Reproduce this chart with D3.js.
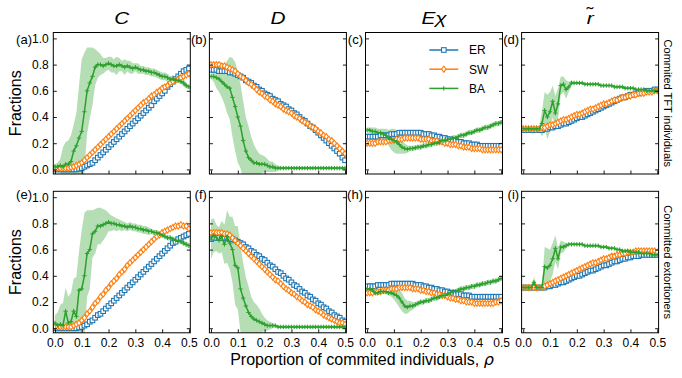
<!DOCTYPE html>
<html>
<head>
<meta charset="utf-8">
<script src="https://cdn.jsdelivr.net/npm/d3@7"></script>
<style>
  body { margin: 0; background: #fff; }
  text { font-family: "Liberation Sans", Arial, sans-serif; }
</style>
</head>
<body>
<div id="chart-area"></div>
<script>
// proportion of committed individuals (x values)
const rho = [0.00,0.01,0.02,0.03,0.04,0.05,0.06,0.07,0.08,0.09,
  0.10,0.11,0.12,0.13,0.14,0.15,0.16,0.17,0.18,0.19,
  0.20,0.21,0.22,0.23,0.24,0.25,0.26,0.27,0.28,0.29,
  0.30,0.31,0.32,0.33,0.34,0.35,0.36,0.37,0.38,0.39,
  0.40,0.41,0.42,0.43,0.44,0.45,0.46,0.47,0.48,0.49,0.50];

const xTicks = [0, 0.1, 0.2, 0.3, 0.4, 0.5];
const yTicks = [0, 0.2, 0.4, 0.6, 0.8, 1.0];
const columnTitles = ["C", "D", "E\u03c7", "r"];
const rowTitles = ["Commited TFT individuals", "Committed extortioners"];
const panelLetters = ["(a)", "(b)", "(c)", "(d)", "(e)", "(f)", "(h)", "(i)"];
const networks = ["ER", "SW", "BA"];

// ---- row 1: committed TFT ----
const erC1 = [0,0,0,0,0,0,0,0,0,0.005,0.01,0.02,0.03,0.04,0.05,0.07,0.09,0.11,0.13,0.15,0.17,0.19,0.21,0.23,0.25,0.27,0.29,0.31,0.33,0.35,0.37,0.39,0.41,0.43,0.45,0.47,0.49,0.52,0.54,0.56,0.58,0.60,0.63,0.65,0.67,0.69,0.71,0.73,0.75,0.76,0.77];
const swC1 = [0.01,0.01,0.01,0.01,0.01,0.01,0.015,0.02,0.03,0.04,0.05,0.07,0.09,0.11,0.13,0.15,0.17,0.19,0.21,0.23,0.25,0.27,0.29,0.31,0.33,0.35,0.37,0.39,0.41,0.43,0.45,0.47,0.49,0.51,0.52,0.54,0.56,0.57,0.59,0.60,0.62,0.63,0.64,0.66,0.67,0.68,0.69,0.70,0.71,0.72,0.73];
const baC1 = [0.02,0.02,0.03,0.02,0.04,0.04,0.06,0.14,0.18,0.24,0.29,0.44,0.60,0.66,0.71,0.78,0.80,0.80,0.79,0.80,0.81,0.80,0.79,0.79,0.80,0.79,0.78,0.79,0.78,0.77,0.78,0.77,0.76,0.76,0.75,0.75,0.74,0.74,0.73,0.72,0.71,0.71,0.70,0.69,0.69,0.68,0.68,0.67,0.66,0.64,0.63];
const sdC1 = [0.02,0.03,0.05,0.15,0.17,0.18,0.20,0.20,0.25,0.40,0.55,0.45,0.33,0.27,0.22,0.14,0.10,0.08,0.06,0.05,0.05,0.06,0.05,0.07,0.05,0.04,0.06,0.04,0.05,0.04,0.03,0.04,0.03,0.03,0.03,0.03,0.03,0.03,0.03,0.03,0.03,0.03,0.03,0.02,0.03,0.02,0.02,0.02,0.03,0.02,0.02];

const erD1 = [0.76,0.76,0.76,0.75,0.75,0.75,0.75,0.74,0.74,0.73,0.72,0.71,0.70,0.68,0.67,0.66,0.64,0.63,0.61,0.60,0.58,0.57,0.56,0.54,0.53,0.52,0.50,0.49,0.48,0.46,0.45,0.43,0.42,0.40,0.38,0.37,0.35,0.33,0.32,0.30,0.28,0.26,0.24,0.22,0.20,0.18,0.16,0.14,0.12,0.09,0.07];
const swD1 = [0.80,0.80,0.80,0.80,0.79,0.79,0.78,0.77,0.76,0.75,0.73,0.71,0.70,0.68,0.66,0.65,0.63,0.61,0.59,0.58,0.56,0.55,0.53,0.52,0.50,0.49,0.48,0.46,0.45,0.44,0.43,0.41,0.40,0.39,0.37,0.36,0.35,0.33,0.32,0.31,0.29,0.28,0.26,0.25,0.23,0.22,0.20,0.18,0.16,0.14,0.12];
const baD1 = [0.71,0.71,0.70,0.69,0.67,0.65,0.63,0.62,0.55,0.48,0.40,0.33,0.22,0.14,0.09,0.07,0.05,0.05,0.04,0.04,0.04,0.03,0.02,0.02,0.01,0.01,0.01,0.01,0.01,0.01,0.01,0.01,0.01,0.01,0.01,0.01,0.01,0.01,0.01,0.01,0.01,0.01,0.01,0.01,0.01,0.01,0.01,0.01,0.01,0.01,0.01];
const sdD1 = [0.02,0.04,0.08,0.10,0.12,0.15,0.20,0.24,0.30,0.34,0.35,0.32,0.30,0.26,0.24,0.18,0.14,0.10,0.08,0.07,0.06,0.05,0.04,0.04,0.03,0.02,0.01,0.01,0.01,0.01,0.01,0.01,0.01,0.01,0.01,0.01,0.01,0.01,0.01,0.01,0.01,0.01,0.01,0.01,0.01,0.01,0.01,0.01,0.01,0.01,0.01];

const erE1 = [0.25,0.25,0.25,0.25,0.25,0.26,0.26,0.26,0.26,0.27,0.27,0.27,0.28,0.28,0.28,0.28,0.28,0.28,0.28,0.28,0.28,0.27,0.27,0.27,0.26,0.26,0.25,0.25,0.24,0.24,0.23,0.23,0.22,0.22,0.21,0.21,0.20,0.20,0.20,0.19,0.19,0.19,0.18,0.18,0.18,0.18,0.18,0.18,0.18,0.18,0.18];
const swE1 = [0.20,0.20,0.20,0.20,0.21,0.21,0.21,0.21,0.22,0.22,0.22,0.23,0.23,0.23,0.24,0.24,0.24,0.24,0.24,0.24,0.23,0.23,0.23,0.23,0.22,0.22,0.22,0.21,0.21,0.20,0.20,0.19,0.19,0.19,0.18,0.18,0.17,0.17,0.17,0.16,0.16,0.16,0.16,0.15,0.15,0.15,0.15,0.15,0.15,0.15,0.15];
const baE1 = [0.30,0.30,0.29,0.29,0.28,0.28,0.27,0.26,0.24,0.23,0.22,0.21,0.19,0.17,0.16,0.155,0.16,0.16,0.165,0.17,0.17,0.18,0.18,0.19,0.19,0.20,0.20,0.21,0.22,0.22,0.23,0.23,0.24,0.24,0.25,0.26,0.26,0.27,0.28,0.28,0.29,0.30,0.30,0.31,0.32,0.32,0.33,0.34,0.35,0.35,0.36];
const sdE1 = [0.02,0.02,0.03,0.03,0.03,0.03,0.04,0.05,0.06,0.08,0.09,0.09,0.07,0.05,0.04,0.03,0.02,0.02,0.02,0.02,0.02,0.02,0.02,0.02,0.02,0.02,0.02,0.02,0.02,0.02,0.02,0.02,0.02,0.02,0.02,0.02,0.02,0.02,0.02,0.02,0.02,0.02,0.02,0.02,0.02,0.02,0.02,0.02,0.02,0.02,0.02];

const erR1 = [0.30,0.30,0.30,0.30,0.30,0.30,0.30,0.30,0.31,0.31,0.32,0.32,0.33,0.33,0.34,0.35,0.35,0.36,0.37,0.38,0.39,0.40,0.40,0.41,0.42,0.43,0.44,0.45,0.46,0.47,0.48,0.49,0.50,0.51,0.52,0.53,0.54,0.55,0.55,0.56,0.57,0.57,0.58,0.58,0.59,0.59,0.60,0.60,0.60,0.61,0.61];
const swR1 = [0.31,0.31,0.31,0.31,0.31,0.31,0.31,0.32,0.32,0.33,0.34,0.34,0.35,0.36,0.37,0.38,0.38,0.39,0.40,0.41,0.42,0.42,0.43,0.44,0.45,0.46,0.46,0.47,0.48,0.49,0.50,0.50,0.51,0.52,0.53,0.53,0.54,0.55,0.55,0.56,0.56,0.57,0.57,0.58,0.58,0.58,0.59,0.59,0.59,0.60,0.60];
const baR1 = [0.31,0.31,0.31,0.31,0.31,0.31,0.31,0.35,0.45,0.40,0.44,0.52,0.43,0.50,0.64,0.65,0.61,0.63,0.66,0.66,0.66,0.66,0.66,0.65,0.65,0.65,0.65,0.65,0.65,0.64,0.64,0.64,0.64,0.64,0.63,0.63,0.63,0.63,0.62,0.62,0.62,0.62,0.61,0.61,0.61,0.61,0.60,0.60,0.60,0.60,0.60];
const sdR1 = [0.01,0.01,0.01,0.01,0.01,0.01,0.01,0.10,0.14,0.17,0.15,0.12,0.13,0.12,0.07,0.06,0.07,0.04,0.02,0.01,0.01,0.01,0.01,0.01,0.01,0.01,0.01,0.01,0.01,0.01,0.01,0.01,0.01,0.01,0.01,0.01,0.01,0.01,0.01,0.01,0.01,0.01,0.01,0.01,0.01,0.01,0.01,0.01,0.01,0.01,0.01];

// ---- row 2: committed extortioners ----
const erC2 = [0,0,0,0,0,0,0,0,0,0.005,0.01,0.02,0.03,0.05,0.06,0.08,0.10,0.11,0.13,0.15,0.17,0.19,0.21,0.23,0.25,0.27,0.29,0.31,0.33,0.35,0.37,0.39,0.41,0.43,0.45,0.47,0.49,0.51,0.53,0.55,0.57,0.59,0.61,0.63,0.65,0.66,0.68,0.69,0.70,0.71,0.72];
const swC2 = [0.01,0.01,0.01,0.01,0.01,0.01,0.01,0.02,0.03,0.04,0.06,0.08,0.11,0.13,0.16,0.19,0.21,0.24,0.26,0.29,0.31,0.34,0.36,0.38,0.41,0.43,0.45,0.48,0.50,0.52,0.54,0.56,0.58,0.60,0.62,0.64,0.66,0.68,0.70,0.71,0.73,0.74,0.75,0.76,0.77,0.78,0.78,0.79,0.78,0.78,0.76];
const baC2 = [0.04,0.02,0.03,0.02,0.13,0.04,0.05,0.13,0.09,0.29,0.30,0.40,0.57,0.60,0.72,0.74,0.78,0.78,0.79,0.80,0.81,0.80,0.80,0.79,0.79,0.78,0.78,0.77,0.78,0.77,0.77,0.76,0.76,0.75,0.75,0.74,0.74,0.73,0.73,0.72,0.71,0.70,0.69,0.69,0.68,0.67,0.67,0.66,0.65,0.64,0.63];
const sdC2 = [0.06,0.10,0.15,0.17,0.18,0.20,0.22,0.25,0.30,0.30,0.45,0.48,0.33,0.30,0.18,0.17,0.14,0.14,0.12,0.10,0.07,0.06,0.05,0.05,0.04,0.04,0.03,0.03,0.03,0.03,0.03,0.03,0.03,0.03,0.03,0.03,0.02,0.02,0.02,0.02,0.02,0.02,0.02,0.02,0.02,0.02,0.02,0.02,0.02,0.02,0.02];

const erD2 = [0.68,0.69,0.69,0.69,0.69,0.69,0.69,0.68,0.68,0.67,0.66,0.65,0.64,0.62,0.61,0.59,0.58,0.56,0.55,0.53,0.52,0.50,0.48,0.47,0.45,0.43,0.42,0.40,0.38,0.37,0.35,0.33,0.32,0.30,0.28,0.27,0.25,0.24,0.22,0.21,0.19,0.18,0.16,0.15,0.13,0.12,0.10,0.09,0.08,0.06,0.05];
const swD2 = [0.73,0.73,0.73,0.73,0.73,0.72,0.72,0.71,0.69,0.67,0.65,0.63,0.61,0.59,0.57,0.55,0.53,0.51,0.49,0.47,0.45,0.43,0.41,0.39,0.37,0.36,0.34,0.32,0.30,0.29,0.27,0.26,0.24,0.23,0.21,0.20,0.18,0.17,0.16,0.14,0.13,0.12,0.10,0.09,0.08,0.07,0.06,0.05,0.04,0.04,0.03];
const baD2 = [0.68,0.71,0.69,0.67,0.70,0.64,0.70,0.65,0.60,0.48,0.46,0.30,0.23,0.17,0.12,0.09,0.07,0.06,0.05,0.04,0.03,0.02,0.02,0.02,0.02,0.01,0.01,0.01,0.01,0.01,0.01,0.01,0.01,0.01,0.01,0.01,0.01,0.01,0.01,0.01,0.01,0.01,0.01,0.01,0.01,0.01,0.01,0.01,0.01,0.01,0.01];
const sdD2 = [0.15,0.13,0.10,0.10,0.12,0.15,0.20,0.20,0.25,0.30,0.32,0.33,0.27,0.22,0.20,0.15,0.13,0.12,0.10,0.07,0.05,0.04,0.03,0.02,0.01,0.01,0.01,0.01,0.01,0.01,0.01,0.01,0.01,0.01,0.01,0.01,0.01,0.01,0.01,0.01,0.01,0.01,0.01,0.01,0.01,0.01,0.01,0.01,0.01,0.01,0.01];

const erE2 = [0.32,0.32,0.32,0.32,0.33,0.33,0.33,0.33,0.33,0.34,0.34,0.34,0.34,0.34,0.34,0.34,0.34,0.34,0.33,0.33,0.33,0.32,0.32,0.31,0.31,0.30,0.30,0.29,0.29,0.28,0.28,0.27,0.27,0.26,0.26,0.26,0.25,0.25,0.25,0.24,0.24,0.24,0.24,0.24,0.24,0.24,0.24,0.24,0.24,0.24,0.24];
const swE2 = [0.27,0.27,0.27,0.28,0.28,0.28,0.29,0.29,0.29,0.30,0.30,0.30,0.31,0.31,0.31,0.31,0.31,0.30,0.30,0.30,0.29,0.29,0.28,0.28,0.27,0.27,0.26,0.26,0.25,0.25,0.24,0.23,0.23,0.22,0.22,0.21,0.21,0.20,0.20,0.20,0.19,0.19,0.19,0.19,0.19,0.19,0.19,0.19,0.20,0.20,0.21];
const baE2 = [0.30,0.30,0.29,0.27,0.27,0.28,0.28,0.28,0.27,0.27,0.26,0.25,0.23,0.20,0.17,0.16,0.17,0.17,0.18,0.19,0.20,0.20,0.21,0.21,0.22,0.23,0.23,0.24,0.25,0.25,0.26,0.27,0.28,0.28,0.29,0.30,0.30,0.31,0.31,0.32,0.32,0.33,0.33,0.34,0.34,0.35,0.35,0.36,0.36,0.37,0.38];
const sdE2 = [0.02,0.02,0.02,0.02,0.02,0.02,0.02,0.02,0.02,0.03,0.04,0.06,0.07,0.07,0.06,0.05,0.04,0.03,0.02,0.02,0.02,0.02,0.02,0.02,0.02,0.02,0.02,0.02,0.02,0.02,0.02,0.02,0.02,0.02,0.02,0.02,0.02,0.02,0.02,0.02,0.02,0.02,0.02,0.02,0.02,0.02,0.02,0.02,0.02,0.02,0.02];

const erR2 = [0.31,0.31,0.31,0.31,0.31,0.31,0.31,0.31,0.31,0.32,0.32,0.33,0.33,0.34,0.35,0.35,0.36,0.37,0.38,0.39,0.40,0.40,0.41,0.42,0.43,0.44,0.44,0.45,0.46,0.47,0.48,0.48,0.49,0.50,0.51,0.51,0.52,0.53,0.53,0.54,0.54,0.55,0.55,0.55,0.56,0.56,0.56,0.56,0.56,0.56,0.56];
const swR2 = [0.31,0.31,0.31,0.31,0.31,0.31,0.31,0.31,0.32,0.33,0.34,0.35,0.36,0.37,0.38,0.39,0.40,0.41,0.42,0.43,0.44,0.45,0.46,0.47,0.48,0.49,0.50,0.50,0.51,0.52,0.53,0.53,0.54,0.55,0.55,0.56,0.56,0.57,0.57,0.58,0.58,0.58,0.59,0.59,0.59,0.59,0.59,0.59,0.59,0.59,0.58];
const baR2 = [0.31,0.31,0.31,0.31,0.35,0.31,0.31,0.31,0.47,0.46,0.48,0.53,0.61,0.53,0.62,0.62,0.63,0.64,0.64,0.64,0.64,0.64,0.64,0.63,0.63,0.63,0.63,0.63,0.63,0.62,0.62,0.62,0.61,0.61,0.61,0.60,0.60,0.59,0.59,0.59,0.58,0.58,0.58,0.58,0.57,0.57,0.57,0.57,0.56,0.56,0.56];
const sdR2 = [0.01,0.01,0.01,0.01,0.04,0.02,0.01,0.02,0.15,0.15,0.12,0.12,0.10,0.08,0.05,0.04,0.02,0.01,0.01,0.01,0.01,0.01,0.01,0.01,0.01,0.01,0.01,0.01,0.01,0.01,0.01,0.01,0.01,0.01,0.01,0.01,0.01,0.01,0.01,0.01,0.01,0.01,0.01,0.01,0.01,0.01,0.01,0.01,0.01,0.01,0.01];

const panels = [
  {er: erC1, sw: swC1, ba: baC1, sd: sdC1},
  {er: erD1, sw: swD1, ba: baD1, sd: sdD1},
  {er: erE1, sw: swE1, ba: baE1, sd: sdE1},
  {er: erR1, sw: swR1, ba: baR1, sd: sdR1},
  {er: erC2, sw: swC2, ba: baC2, sd: sdC2},
  {er: erD2, sw: swD2, ba: baD2, sd: sdD2},
  {er: erE2, sw: swE2, ba: baE2, sd: sdE2},
  {er: erR2, sw: swR2, ba: baR2, sd: sdR2}
];

const colors = {ER: "#1f77b4", SW: "#ff7f0e", BA: "#2ca02c"};
const mathFont = "'DejaVu Sans', sans-serif";

let svg = d3.select("#chart-area")
  .append("svg")
  .attr("width", 682)
  .attr("height", 378);

const panelW = 137, panelH = 141.5;

// marker drawing
function drawMarkers(g, kind, pts) {
  let col = colors[kind];
  if (kind == "ER") {
    g.selectAll(null).data(pts).enter().append("rect")
      .attr("x", d => d[0] - 2.3).attr("y", d => d[1] - 2.3)
      .attr("width", 4.6).attr("height", 4.6)
      .attr("fill", "white").attr("stroke", col).attr("stroke-width", 1.1);
  } else if (kind == "SW") {
    g.selectAll(null).data(pts).enter().append("path")
      .attr("d", d => `M${d[0]},${d[1]-3}L${d[0]+2.2},${d[1]}L${d[0]},${d[1]+3}L${d[0]-2.2},${d[1]}Z`)
      .attr("fill", "white").attr("stroke", col).attr("stroke-width", 1.1);
  } else {
    g.selectAll(null).data(pts).enter().append("path")
      .attr("d", d => `M${d[0]-2.2},${d[1]}H${d[0]+2.2}M${d[0]},${d[1]-2.2}V${d[1]+2.2}`)
      .attr("stroke", col).attr("stroke-width", 1);
  }
}

panels.forEach(function(p, i) {
  let row = Math.floor(i / 4), col = i % 4;
  let x0 = 53.3 + col * 156.1;
  let y0 = 32.5 + row * 158.8;

  let x = d3.scaleLinear().domain([-0.006, 0.505]).range([x0, x0 + panelW]);
  let y = d3.scaleLinear().domain([-0.035, 1.045]).range([y0 + panelH, y0]);

  let clipId = "clip" + i;
  svg.append("clipPath").attr("id", clipId)
    .append("rect").attr("x", x0).attr("y", y0).attr("width", panelW).attr("height", panelH);

  let g = svg.append("g").attr("clip-path", `url(#${clipId})`);

  // BA spread band
  let area = d3.area()
    .x((d, k) => x(rho[k]))
    .y0((d, k) => y(p.ba[k] - p.sd[k]))
    .y1((d, k) => y(p.ba[k] + p.sd[k]));
  g.append("path").datum(p.ba)
    .attr("d", area)
    .attr("fill", colors.BA).attr("fill-opacity", 0.35);

  let line = d3.line().x((d, k) => x(rho[k])).y(d => y(d));

  [["ER", p.er], ["SW", p.sw], ["BA", p.ba]].forEach(function(s) {
    g.append("path").datum(s[1])
      .attr("d", line)
      .attr("fill", "none")
      .attr("stroke", colors[s[0]])
      .attr("stroke-width", 1.5);
    let pts = s[1].map((v, k) => [x(rho[k]), y(v)]);
    drawMarkers(g, s[0], pts);
  });

  // axes with inward ticks
  let left = svg.append("g").attr("transform", `translate(${x0},0)`)
    .call(d3.axisLeft(y).tickValues(yTicks).tickSize(-3.5).tickSizeOuter(0).tickPadding(4.5)
      .tickFormat(col == 0 ? d3.format(".1f") : ""));
  let right = svg.append("g").attr("transform", `translate(${x0 + panelW},0)`)
    .call(d3.axisRight(y).tickValues(yTicks).tickSize(-3.5).tickSizeOuter(0).tickFormat(""));
  let bottom = svg.append("g").attr("transform", `translate(0,${y0 + panelH})`)
    .call(d3.axisBottom(x).tickValues(xTicks).tickSize(-3.5).tickSizeOuter(0).tickPadding(5.5)
      .tickFormat(row == 1 ? d3.format(".1f") : ""));
  [left, right, bottom].forEach(function(a) {
    a.select(".domain").remove();
    a.selectAll("line").attr("stroke", "#000").attr("stroke-width", 0.9);
    a.selectAll("text").attr("font-size", 12).attr("fill", "#000")
      .attr("font-family", "'Liberation Sans', Arial, sans-serif");
  });

  // frame
  svg.append("rect")
    .attr("x", x0).attr("y", y0).attr("width", panelW).attr("height", panelH)
    .attr("fill", "none").attr("stroke", "#000").attr("stroke-width", 1);

  // panel letter
  svg.append("text")
    .attr("x", col == 0 ? 32 : x0 - 2.5)
    .attr("y", row == 0 ? 43.5 : 198.5)
    .attr("text-anchor", "end")
    .attr("font-size", 13)
    .text(panelLetters[i]);

  if (row == 0) {
    let cx = x0 + panelW / 2;
    let t = svg.append("text")
      .attr("transform", `translate(${cx},24) scale(1.3,1)`)
      .attr("text-anchor", "middle")
      .attr("font-family", mathFont)
      .attr("font-size", 16);
    t.append("tspan").attr("font-style", "italic").text(columnTitles[col]);
    if (col == 3) {
      // tilde accent over r, kept in the same text element
      t.append("tspan").attr("dx", -5.5).attr("dy", -5).text("\u02dc");
    }
  }
  if (col == 0) {
    svg.append("text")
      .attr("transform", `translate(21,${y0 + panelH / 2}) rotate(-90)`)
      .attr("text-anchor", "middle")
      .attr("font-size", 16)
      .text("Fractions");
  }
  if (col == 3) {
    svg.append("text")
      .attr("transform", `translate(664,${y0 + panelH / 2}) rotate(90)`)
      .attr("text-anchor", "middle")
      .attr("font-size", 11)
      .text(rowTitles[row]);
  }
});

// x axis label
let xl = svg.append("text")
  .attr("x", 362).attr("y", 365)
  .attr("text-anchor", "middle")
  .attr("font-size", 16)
  .text("Proportion of commited individuals, ");
xl.append("tspan").attr("font-family", mathFont).attr("font-style", "italic").text("\u03c1");

// legend inside panel (c)
let legend = svg.append("g");
networks.forEach(function(n, k) {
  let ly = 50 + k * 19.2;
  legend.append("line")
    .attr("x1", 429.3).attr("x2", 458.3).attr("y1", ly).attr("y2", ly)
    .attr("stroke", colors[n]).attr("stroke-width", 1.5);
  drawMarkers(legend, n, [[443.8, ly]]);
  legend.append("text")
    .attr("x", 469).attr("y", ly + 4.3)
    .attr("font-size", 12)
    .text(n);
});
</script>
</body>
</html>
